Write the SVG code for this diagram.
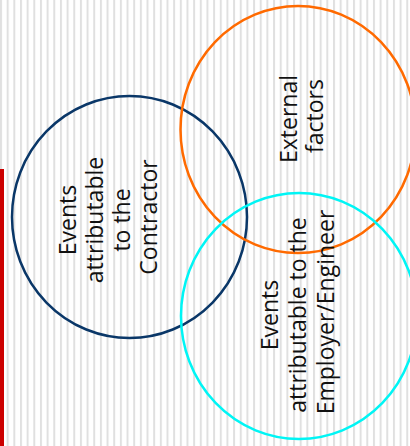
<svg xmlns="http://www.w3.org/2000/svg" width="410" height="446" viewBox="0 0 410 446">
  <defs>
    <!-- light vertical hatching for the slide background -->
    <pattern id="stripes" x="0" y="0" width="6.66" height="446" patternUnits="userSpaceOnUse">
      <rect x="0" y="0" width="2" height="446" fill="#e0e0e0"/>
    </pattern>
    <style>
      .ring { fill: none; stroke-width: 2.5; }
      .navy { stroke: #0a3768; }
      .orange { stroke: #ff6a00; }
      .cyan { stroke: #00f5f5; }
      .label { font-family: "Open Sans", "Liberation Sans", sans-serif; font-size: 23px; font-weight: 400; fill: #111111; text-anchor: middle; }
    </style>
  </defs>

  <!-- background -->
  <rect x="0" y="0" width="410" height="446" fill="#ffffff"/>
  <rect x="0" y="0" width="410" height="446" fill="url(#stripes)"/>
  <rect x="0" y="169" width="4" height="277" fill="#cc0000"/>

  <g id="connectors"/>

  <g id="contractor">
    <ellipse class="ring navy" cx="129.5" cy="217" rx="117.5" ry="121"/>
    <text class="label" transform="translate(76,217) rotate(-90)">
      <tspan x="0" y="0">Events</tspan>
      <tspan x="0" y="27">attributable</tspan>
      <tspan x="0" y="54">to the</tspan>
      <tspan x="0" y="81">Contractor</tspan>
    </text>
  </g>

  <g id="external">
    <ellipse class="ring orange" cx="298" cy="129.5" rx="117.5" ry="123.5"/>
    <text class="label" transform="translate(297,116) rotate(-90)">
      <tspan x="0" y="0">External</tspan>
      <tspan x="0" y="26">factors</tspan>
    </text>
  </g>

  <g id="employer">
    <ellipse class="ring cyan" cx="299" cy="316" rx="118" ry="123"/>
    <text class="label" transform="translate(278,312) rotate(-90)">
      <tspan x="0" y="0">Events</tspan>
      <tspan x="0" y="28">attributable to the</tspan>
      <tspan x="0" y="56">Employer/Engineer</tspan>
    </text>
  </g>
</svg>
